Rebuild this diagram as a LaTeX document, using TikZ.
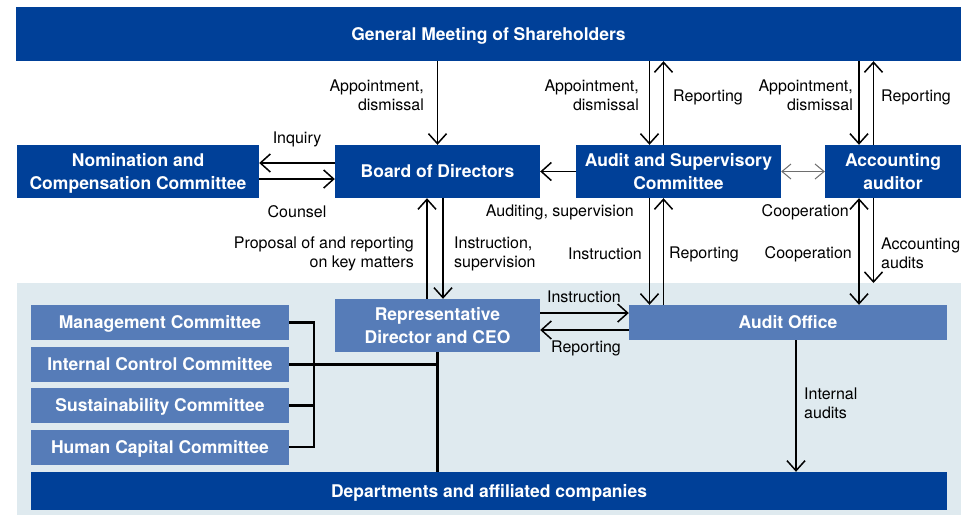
\documentclass[tikz,border=0pt]{standalone}
\usepackage{fontspec}
\setmainfont{TeX Gyre Heros}
\usetikzlibrary{arrows.meta}
\definecolor{dkblue}{RGB}{0,64,152}
\definecolor{mdblue}{RGB}{86,124,184}
\definecolor{bgblue}{RGB}{223,234,239}
\definecolor{grayline}{RGB}{110,110,110}
\begin{document}
\begin{tikzpicture}[x=1pt,y=-1pt,
  box/.style={inner sep=0pt, align=center, text=white, font=\bfseries\fontsize{17.5}{23}\selectfont},
  dk/.style={box, fill=dkblue},
  md/.style={box, fill=mdblue},
  oneline/.style={text height=12.5pt, text depth=0pt},
  twoline/.style={text depth=0pt},
  lbl/.style={inner sep=0pt, font=\fontsize{16}{19}\selectfont},
  conn/.style={line width=1.8pt, -{Straight Barb[length=10pt,width=18pt,line width=1.5pt]}},
  dconn/.style={line width=1.8pt, {Straight Barb[length=10pt,width=18pt,line width=1.5pt]}-{Straight Barb[length=10pt,width=18pt,line width=1.5pt]}},
  gconn/.style={line width=1.3pt, draw=grayline, {Straight Barb[length=9pt,width=15pt,line width=1pt]}-{Straight Barb[length=9pt,width=15pt,line width=1pt]}},
  bracketline/.style={draw=black, line width=2.2pt}
]
\useasboundingbox (0,0) rectangle (977,515);
\fill[white] (0,0) rectangle (977,515);
% background of company
\node[fill=bgblue, inner sep=0pt, minimum width=944pt, minimum height=232pt, anchor=north west] (company) at (17,283) {};

% top
\node[dk, oneline, minimum width=945pt, minimum height=54pt] (gm) at (488.5,34) {General Meeting of Shareholders};
\node[dk, twoline, minimum width=242pt, minimum height=53pt] (nom) at (138,171.5) {Nomination and\\Compensation Committee};
\node[dk, oneline, minimum width=205pt, minimum height=53pt] (board) at (437.5,171.5) {Board of Directors};
\node[dk, twoline, minimum width=205pt, minimum height=53pt] (asc) at (678.5,171.5) {Audit and Supervisory\\Committee};
\node[dk, twoline, minimum width=136pt, minimum height=53pt] (acc) at (893,171.5) {Accounting\\auditor};

% inner
\node[md, twoline, minimum width=205pt, minimum height=53pt] (ceo) at (437.5,325.5) {Representative\\Director and CEO};
\node[md, oneline, minimum width=318pt, minimum height=35pt] (ao) at (788,322.5) {Audit Office};
\node[md, oneline, minimum width=258pt, minimum height=35pt] (mgmt) at (160,322.5) {Management Committee};
\node[md, oneline, minimum width=258pt, minimum height=35pt] (icc) at (160,364.5) {Internal Control Committee};
\node[md, oneline, minimum width=258pt, minimum height=35pt] (sus) at (160,405.5) {Sustainability Committee};
\node[md, oneline, minimum width=258pt, minimum height=35pt] (hcc) at (160,447) {Human Capital Committee};
\node[dk, oneline, minimum width=916pt, minimum height=38pt] (dept) at (489,491) {Departments and affiliated companies};

% GM connectors
\draw[conn] (gm.south -| board.north) -- (board.north);
\node[lbl, anchor=east, align=right] at (424,95) {Appointment,\\dismissal};
\draw[conn] (gm.south -| 649.5,0) -- (asc.north -| 649.5,0);
\node[lbl, anchor=east, align=right] at (639,95) {Appointment,\\dismissal};
\draw[conn] (asc.north -| 663.5,0) -- (gm.south -| 663.5,0);
\node[lbl, anchor=west] at (673,97) {Reporting};
\draw[conn] (gm.south -| 859,0) -- (acc.north -| 859,0);
\node[lbl, anchor=east, align=right] at (853,95) {Appointment,\\dismissal};
\draw[conn] (acc.north -| 873.5,0) -- (gm.south -| 873.5,0);
\node[lbl, anchor=west] at (881,97) {Reporting};

% Nomination <-> Board
\draw[conn] (board.west |- 0,163) -- (nom.east |- 0,163);
\draw[conn] (nom.east |- 0,179) -- (board.west |- 0,179);
\node[lbl] at (297,139) {Inquiry};
\node[lbl] at (297,212) {Counsel};

% ASC -> Board, ASC <-> Acc
\draw[conn] (asc.west) -- (board.east);
\node[lbl, anchor=east] at (634,212) {Auditing, supervision};
\draw[gconn] (asc.east) -- (acc.west);
\node[lbl, anchor=east] at (849,212) {Cooperation};

% Board <-> CEO
\draw[conn] (ceo.north -| 427,0) -- (board.south -| 427,0);
\draw[conn] (board.south -| 443,0) -- (ceo.north -| 443,0);
\node[lbl, anchor=east, align=right] at (414,253.5) {Proposal of and reporting\\on key matters};
\node[lbl, anchor=west, align=left] at (454,253.5) {Instruction,\\supervision};

% ASC <-> Audit office
\draw[conn] (asc.south -| 649.5,0) -- (ao.north -| 649.5,0);
\draw[conn] (ao.north -| 663.5,0) -- (asc.south -| 663.5,0);
\node[lbl, anchor=east] at (642,254) {Instruction};
\node[lbl, anchor=west] at (669,254) {Reporting};

% Accounting auditor
\draw[dconn] (acc.south -| 859,0) -- (ao.north -| 859,0);
\node[lbl, anchor=east] at (852,254) {Cooperation};
\draw[conn] (acc.south -| 873.5,0) -- (company.north -| 873.5,0);
\node[lbl, anchor=west, align=left] at (881,253.5) {Accounting\\audits};

% CEO <-> Audit office
\draw[conn] (ceo.east |- 0,313) -- (ao.west |- 0,313);
\draw[conn] (ao.west |- 0,330) -- (ceo.east |- 0,330);
\node[lbl] at (584,297) {Instruction};
\node[lbl] at (586,348) {Reporting};

% Audit office -> departments
\draw[conn] (ao.south -| 796,0) -- (dept.north -| 796,0);
\node[lbl, anchor=west, align=left] at (804,403) {Internal\\audits};

% committee bracket
\coordinate (br) at (314,0);
\draw[bracketline] (mgmt.east) -- (mgmt.east -| br) -- (hcc.east -| br) -- (hcc.east);
\draw[bracketline] (sus.east) -- (sus.east -| br);
\draw[bracketline] (icc.east) -- (icc.east -| ceo.south);
\draw[bracketline] (ceo.south) -- (dept.north -| ceo.south);
\end{tikzpicture}
\end{document}
